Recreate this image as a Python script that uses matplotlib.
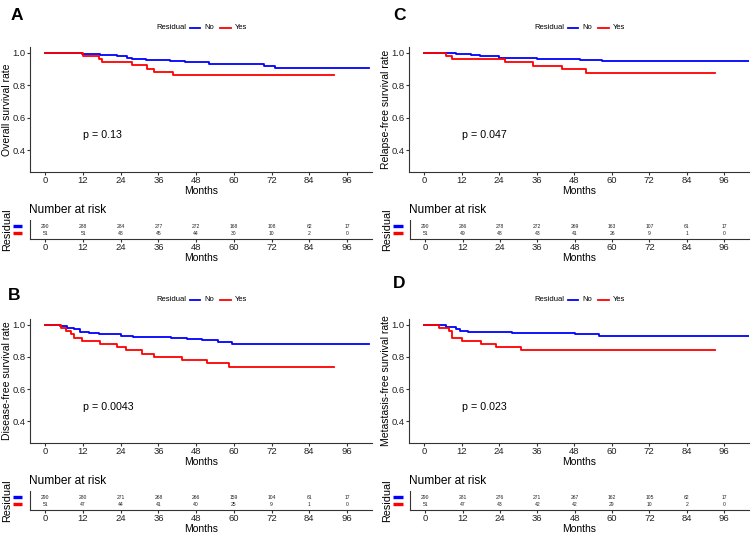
import matplotlib.pyplot as plt
from matplotlib.lines import Line2D

plt.rcParams['font.family'] = ['Liberation Sans', 'DejaVu Sans']

W, H = 753, 534
months = [0, 12, 24, 36, 48, 60, 72, 84, 96]

# A - overall survival
a_no_t = [0, 5.3, 11.7, 17.5, 22.8, 26, 27.6, 32, 39.8, 44.5, 52, 69.5, 73.2, 103]
a_no_s = [1.0, 0.995, 0.99, 0.985, 0.978, 0.97, 0.961, 0.955, 0.948, 0.94, 0.932, 0.92, 0.905, 0.905]
a_yes_t = [0, 12, 17, 18, 27.6, 32.3, 34.7, 40.5, 92]
a_yes_s = [1.0, 0.980, 0.961, 0.941, 0.922, 0.902, 0.882, 0.862, 0.862]
a_no_risk = [290, 288, 284, 277, 272, 168, 108, 62, 17]
a_yes_risk = [51, 51, 48, 45, 44, 30, 10, 2, 0]

# C - relapse-free survival
c_no_t = [0, 7, 10, 15, 18, 24, 30, 36, 50, 57, 104]
c_no_s = [1.0, 0.995, 0.99, 0.985, 0.977, 0.97, 0.965, 0.96, 0.957, 0.947, 0.947]
c_yes_t = [0, 7, 9, 25.9, 34.7, 44.1, 51.8, 93]
c_yes_s = [1.0, 0.98, 0.959, 0.94, 0.92, 0.899, 0.876, 0.876]
c_no_risk = [290, 286, 278, 272, 269, 163, 107, 61, 17]
c_yes_risk = [51, 49, 48, 43, 41, 26, 9, 1, 0]

# B - disease-free survival
b_no_t = [0, 4.8, 7, 9, 11, 14, 17, 24, 28, 40, 45, 50, 55, 58, 59.4, 103]
b_no_s = [1.0, 0.99, 0.98, 0.97, 0.955, 0.95, 0.94, 0.932, 0.923, 0.92, 0.91, 0.905, 0.895, 0.89, 0.882, 0.882]
b_yes_t = [0, 5, 6.6, 8.2, 9, 11.7, 17.5, 22.8, 25.6, 30.8, 34.5, 43.5, 51.4, 58.4, 92]
b_yes_s = [1.0, 0.98, 0.96, 0.94, 0.92, 0.90, 0.88, 0.86, 0.84, 0.82, 0.80, 0.78, 0.76, 0.735, 0.735]
b_no_risk = [290, 280, 271, 268, 266, 159, 104, 61, 17]
b_yes_risk = [51, 47, 44, 41, 40, 25, 9, 1, 0]

# D - metastasis-free survival
d_no_t = [0, 5.2, 7, 10, 11.5, 14, 28, 44, 48.4, 56, 104]
d_no_s = [1.0, 0.995, 0.985, 0.975, 0.96, 0.955, 0.95, 0.945, 0.94, 0.932, 0.932]
d_yes_t = [0, 4.8, 8, 9, 12, 18.2, 22.9, 31, 93]
d_yes_s = [1.0, 0.98, 0.96, 0.92, 0.90, 0.88, 0.86, 0.84, 0.84]
d_no_risk = [290, 281, 276, 271, 267, 162, 105, 62, 17]
d_yes_risk = [51, 47, 43, 42, 42, 29, 10, 2, 0]

BLUE, RED = '#0000ff', '#ff0000'
fig = plt.figure(figsize=(W / 100, H / 100), dpi=100)


def rect(l, r, t, b):
    return [l / W, 1 - b / H, (r - l) / W, (b - t) / H]


def style(ax):
    for s in ['top', 'right']:
        ax.spines[s].set_visible(False)
    for s in ['left', 'bottom']:
        ax.spines[s].set_linewidth(0.8)
        ax.spines[s].set_color('#333333')
    ax.tick_params(length=2.2, width=0.8, pad=1.0, labelsize=6.8,
                   color='#333333', labelcolor='#222222')
    ax.set_xlim(-4.9, 104)
    ax.set_xticks(months)
    ax.set_xlabel('Months', fontsize=7.5, labelpad=0.5)


def panel(letter, lxy, main_box, risk_box, ylab, pval,
          no_t, no_s, yes_t, yes_s, no_risk, yes_risk):
    l, r, t, b = main_box
    ax = fig.add_axes(rect(*main_box))
    style(ax)
    ax.step(no_t, no_s, where='post', color=BLUE, lw=1.3)
    ax.step(yes_t, yes_s, where='post', color=RED, lw=1.3)
    ax.set_ylim(0.265, 1.035)
    ax.set_yticks([0.4, 0.6, 0.8, 1.0])
    ax.set_ylabel(ylab, fontsize=7.5)
    ax.yaxis.set_label_coords(-0.053, 0.5)
    ax.text(12, 0.49, pval, fontsize=7.7, va='center', ha='left')

    # panel letter
    fig.text(lxy[0] / W, 1 - lxy[1] / H, letter, fontsize=12.5,
             fontweight='bold', ha='center', va='center')

    # legend on top
    cx = (l + r) / 2
    ly = 1 - (t - 19.5) / H
    fig.text((cx - 15) / W, ly, 'Residual', fontsize=5.5, ha='right', va='center')
    fig.add_artist(Line2D([(cx - 11) / W, (cx - 1) / W], [ly, ly], color=BLUE, lw=1.3))
    fig.text((cx + 3) / W, ly, 'No', fontsize=5.5, ha='left', va='center')
    fig.add_artist(Line2D([(cx + 19) / W, (cx + 30) / W], [ly, ly], color=RED, lw=1.3))
    fig.text((cx + 34) / W, ly, 'Yes', fontsize=5.5, ha='left', va='center')

    # risk table
    rl, rr, rt, rb = risk_box
    axr = fig.add_axes(rect(*risk_box))
    style(axr)
    axr.set_ylim(0, 2)
    axr.set_yticks([])
    rows = [1.35, 0.6]
    for m, n1, n2 in zip(months, no_risk, yes_risk):
        axr.text(m, rows[0], str(n1), fontsize=3.6, ha='center', va='center', color='#222222')
        axr.text(m, rows[1], str(n2), fontsize=3.6, ha='center', va='center', color='#222222')
    trans = axr.get_yaxis_transform()
    for yy, col in zip(rows, [BLUE, RED]):
        axr.plot([-0.05, -0.022], [yy, yy], transform=trans, color=col,
                 lw=2.4, solid_capstyle='butt', clip_on=False)
    axr.set_ylabel('Residual', fontsize=7.8)
    axr.yaxis.set_label_coords(-0.053, 0.5)
    fig.text((rl - 1) / W, 1 - (rt - 10) / H, 'Number at risk', fontsize=8.6,
             ha='left', va='center')


panel('A', (17, 16), (30, 372, 47, 172), (30, 372, 220, 239),
      'Overall survival rate', 'p = 0.13',
      a_no_t, a_no_s, a_yes_t, a_yes_s, a_no_risk, a_yes_risk)
panel('C', (400, 15), (409, 749, 47, 172), (410, 749, 220, 239),
      'Relapse-free survival rate', 'p = 0.047',
      c_no_t, c_no_s, c_yes_t, c_yes_s, c_no_risk, c_yes_risk)
panel('B', (14, 295), (30, 372, 319, 443), (30, 372, 491, 510),
      'Disease-free survival rate', 'p = 0.0043',
      b_no_t, b_no_s, b_yes_t, b_yes_s, b_no_risk, b_yes_risk)
panel('D', (399, 284), (409, 749, 319, 443), (410, 749, 491, 510),
      'Metastasis-free survival rate', 'p = 0.023',
      d_no_t, d_no_s, d_yes_t, d_yes_s, d_no_risk, d_yes_risk)

fig.savefig('out.png', dpi=100)
